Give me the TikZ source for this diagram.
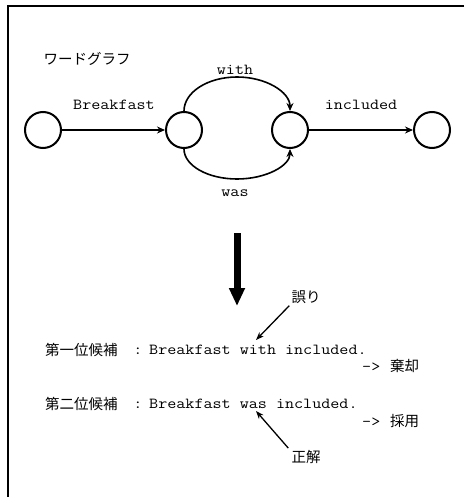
\documentclass[tikz,border=0pt]{standalone}
\usepackage{fontspec}
\setmonofont[FakeStretch=1.15]{Latin Modern Mono}
\newfontfamily\jp{Noto Sans CJK JP}
\usetikzlibrary{arrows.meta}
\begin{document}
\begin{tikzpicture}[x=1pt,y=-1pt,
  state/.style={circle,draw,line width=2pt,minimum size=36pt,inner sep=0pt},
  edge/.style={line width=1.6pt,-{Stealth[length=8pt,width=7pt]}},
  note/.style={line width=1.3pt,-{Stealth[length=8pt,width=6pt]}},
  mono/.style={font=\fontsize{15.3}{18}\selectfont\ttfamily,inner sep=0pt},
  jtxt/.style={font=\fontsize{14.5}{18}\selectfont\jp,inner sep=0pt},
  frame/.style={line width=1.5pt}]
\useasboundingbox (0,0) rectangle (464,497);
% frame
\draw[frame] (464,6) -- (8,6) -- (8,497);
% title
\node[jtxt] (title) at (87,59) {ワードグラフ};
% word graph
\node[state] (c1) at (43,130) {};
\node[state] (c2) at (184,130) {};
\node[state] (c3) at (290,130) {};
\node[state] (c4) at (432,130) {};
\draw[edge] (c1) -- (c2);
\draw[edge] (c3) -- (c4);
\draw[edge] (c2.north) arc[start angle=180,end angle=0,x radius=53pt,y radius=34pt];
\draw[edge] (c2.south) arc[start angle=180,end angle=360,x radius=53pt,y radius=30pt];
\node[mono] (lb) at (114,105) {Breakfast};
\node[mono] (li) at (361,105) {included};
\node[mono] (lw) at (235,70) {with};
\node[mono] (la) at (235,193) {was};
% big arrow
\coordinate (bt) at (237,233);
\coordinate (bb) at (237,306);
\draw[line width=7pt,-{Triangle[length=18pt,width=15pt]}] (bt) -- (bb);
% candidates
\node[jtxt,anchor=west] (k1) at (45,350) {第一位候補};
\node[mono] (col1) at (138,351) {:};
\node[mono,anchor=west] (s1) at (149,350) {Breakfast with included.};
\node[mono,anchor=west] (r1a) at (362,367) {->};
\node[jtxt,anchor=west] (r1b) at (390,366) {棄却};
\node[jtxt,anchor=west] (k2) at (45,404) {第二位候補};
\node[mono] (col2) at (138,405) {:};
\node[mono,anchor=west] (s2) at (149,404) {Breakfast was included.};
\node[mono,anchor=west] (r2a) at (362,422) {->};
\node[jtxt,anchor=west] (r2b) at (390,421) {採用};
% annotations
\node[jtxt] (err) at (306,297) {誤り};
\node[jtxt] (ok) at (306,457) {正解};
\coordinate (tw) at (256,340);
\coordinate (ta) at (256,411);
\draw[note] (err.south west) ++(-2,2) coordinate (e0) (e0) -- (tw);
\draw[note] (ok.north west) ++(-3,-2) coordinate (o0) (o0) -- (ta);
\end{tikzpicture}
\end{document}
